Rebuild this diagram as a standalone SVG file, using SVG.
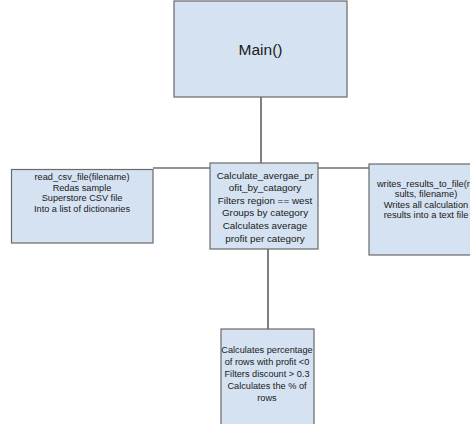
<svg xmlns="http://www.w3.org/2000/svg" width="470" height="424" viewBox="0 0 470 424">
  <style>
    .box { fill: #d5e2f1; stroke: #6a6a6a; stroke-width: 1.2; }
    .wire { stroke: #2b2b2b; stroke-width: 1.2; fill: none; }
    text { font-family: "Liberation Sans", Arial, sans-serif; fill: #1a1a1a; text-anchor: middle; }
    .big { font-size: 15.5px; }
    .left { font-size: 9.2px; }
    .mid { font-size: 9.9px; }
    .right { font-size: 9.3px; }
    .low { font-size: 9.2px; }
  </style>
  <rect width="470" height="424" fill="#ffffff"/>

  <g id="connectors">
    <line class="wire" x1="261" y1="97" x2="261" y2="163"/>
    <line class="wire" x1="153" y1="168" x2="210" y2="168"/>
    <line class="wire" x1="318" y1="168" x2="369" y2="168"/>
    <line class="wire" x1="268" y1="249" x2="268" y2="329"/>
  </g>

  <g id="main">
    <rect class="box" x="174" y="1" width="173" height="96"/>
    <text class="big" x="260.5" y="55">Main()</text>
  </g>

  <g id="read_csv">
    <rect class="box" x="11.5" y="169.5" width="141.5" height="73.5"/>
    <text class="left" x="82" y="180">read_csv_file(filename)</text>
    <text class="left" x="82" y="190.5">Redas sample</text>
    <text class="left" x="82" y="201">Superstore CSV file</text>
    <text class="left" x="82" y="211.5">Into a list of dictionaries</text>
  </g>

  <g id="avg_profit">
    <rect class="box" x="210" y="163" width="108" height="86"/>
    <text class="mid" x="265" y="178.5">Calculate_avergae_pr</text>
    <text class="mid" x="265" y="191">ofit_by_catagory</text>
    <text class="mid" x="265" y="203.5">Filters region == west</text>
    <text class="mid" x="265" y="216">Groups by category</text>
    <text class="mid" x="265" y="229">Calculates average</text>
    <text class="mid" x="265" y="241.5">profit per category</text>
  </g>

  <g id="write_results">
    <rect class="box" x="369" y="164" width="114" height="91"/>
    <text class="right" x="426" y="186.5">writes_results_to_file(re</text>
    <text class="right" x="426" y="197">sults, filename)</text>
    <text class="right" x="426" y="207.5">Writes all calculation</text>
    <text class="right" x="426" y="218">results into a text file</text>
  </g>

  <g id="negative_profit">
    <rect class="box" x="221" y="329" width="93" height="100"/>
    <text class="low" x="267" y="352.5">Calculates percentage</text>
    <text class="low" x="267" y="364.5">of rows with profit &lt;0</text>
    <text class="low" x="267" y="376.5">Filters discount &gt; 0.3</text>
    <text class="low" x="267" y="388.5">Calculates the % of</text>
    <text class="low" x="267" y="400.5">rows</text>
  </g>
</svg>
